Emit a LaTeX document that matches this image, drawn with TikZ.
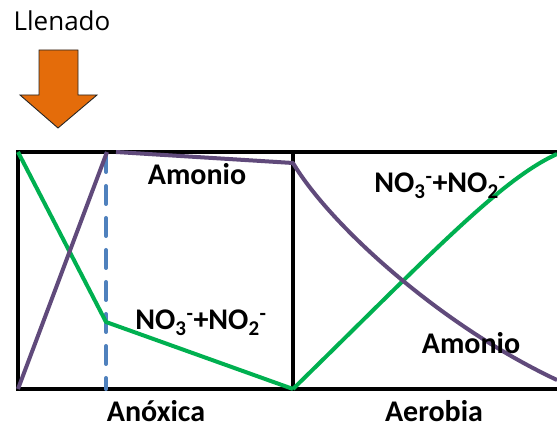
\documentclass[tikz,border=0pt]{standalone}
\usepackage{fontspec}
\setmainfont{Carlito}
\newfontfamily\llenadofont{Open Sans}
\usepackage{tikz}
\usetikzlibrary{positioning,calc}

\definecolor{nitrato}{HTML}{00B050}
\definecolor{amonio}{HTML}{604A7B}
\definecolor{corte}{HTML}{4F81BD}
\definecolor{llenado}{HTML}{E46C0A}

\begin{document}
\begin{tikzpicture}[x=1pt, y=-1pt,
    fase/.style={draw=black, line width=4pt},
    curva/.style={line width=4pt, line join=round},
    etiqueta/.style={font=\fontsize{30}{32}\selectfont\bfseries, inner sep=0pt, anchor=base},
    flecha/.style={fill=llenado, draw=black!85, line width=0.9pt}
]
\useasboundingbox (0,0) rectangle (557,427);
\clip (0,0) rectangle (557,427);

% fases
\coordinate (a1) at (18,152);
\coordinate (a2) at (293,389);
\draw[fase] (a1) rectangle (a2);
\coordinate (b1) at (293,152);
\coordinate (b2) at (570,389);
\draw[fase] (b2 |- b1) -- (b1) -- (b1 |- b2) -- (b2);

% llenado
\node[font=\fontsize{26}{28}\llenadofont, inner sep=0pt, anchor=base] (ll) at (62,31) {Llenado};
\draw[flecha] (39,50) -- (78,50) -- (78,95) -- (97,95) -- (58,128) -- (20,95) -- (39,95) -- cycle;

% fin de la fase anoxica corta
\coordinate (c1) at (106,154);
\coordinate (c2) at (106,389);
\draw[corte, line width=4pt, line cap=round, dash pattern=on 18pt off 14pt] (c1) -- (c2);

% nitrato + nitrito
\coordinate (n1) at (18,152);
\coordinate (n2) at (106,322);
\coordinate (n3) at (293,389);
\coordinate (n4) at (557,154);
\draw[curva, nitrato] (n1) -- (n2) -- (n3);
\draw[curva, nitrato] (n3) .. controls (430,255) and (500,180) .. (n4);

% amonio
\coordinate (m1) at (18,389);
\coordinate (m2) at (107,152);
\coordinate (m3) at (116,152);
\coordinate (m4) at (293,163);
\coordinate (m5) at (557,380);
\draw[curva, amonio] (m1) -- (m2);
\draw[curva, amonio] (m3) -- (m4) .. controls (330,225) and (440,325) .. (m5);

% etiquetas
\node[etiqueta] (am1) at (197,185) {Amonio};
\node[etiqueta] (no1) at (201,330) {NO\textsubscript{3}\textsuperscript{-}+NO\textsubscript{2}\textsuperscript{-}};
\node[etiqueta] (no2) at (440,193) {NO\textsubscript{3}\textsuperscript{-}+NO\textsubscript{2}\textsuperscript{-}};
\node[etiqueta] (am2) at (471,354) {Amonio};
\node[etiqueta] (an) at (156,421) {Anóxica};
\node[etiqueta] (ae) at (434,421) {Aerobia};
\end{tikzpicture}
\end{document}
